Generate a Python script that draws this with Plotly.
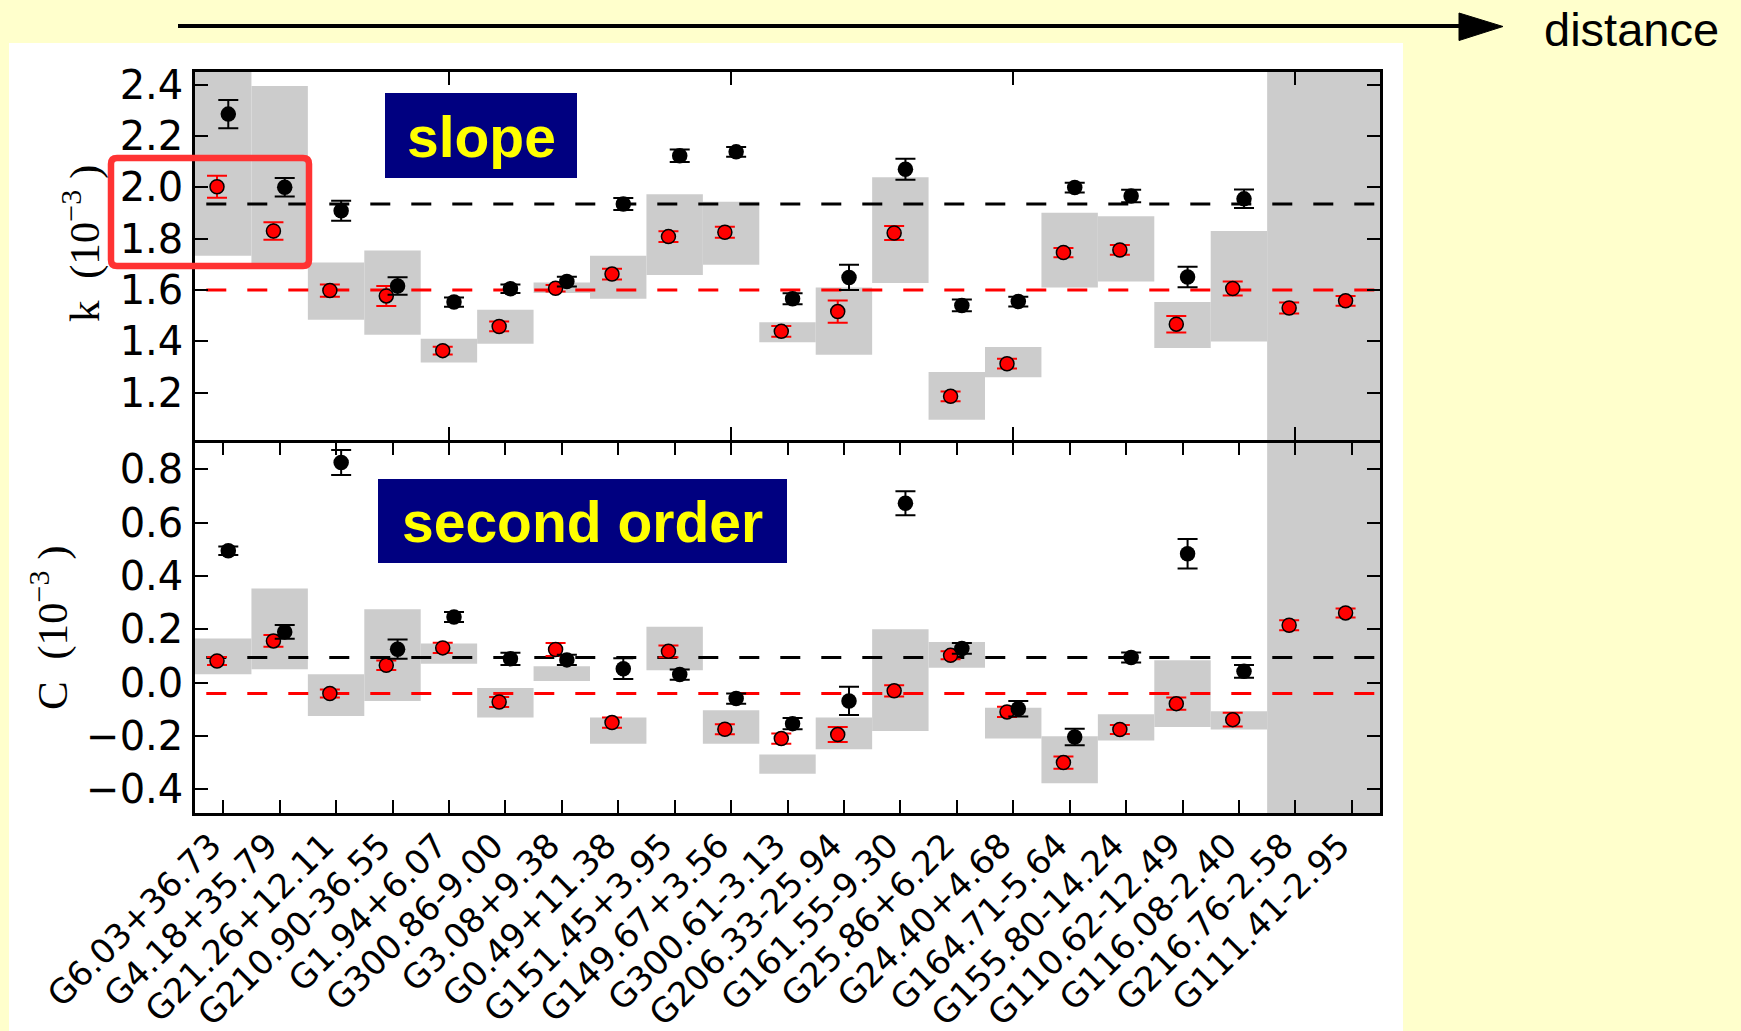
import plotly.graph_objects as go

# ---------------- data ----------------
labels = ["G6.03+36.73", "G4.18+35.79", "G21.26+12.11", "G210.90-36.55", "G1.94+6.07",
          "G300.86-9.00", "G3.08+9.38", "G0.49+11.38", "G151.45+3.95", "G149.67+3.56",
          "G300.61-3.13", "G206.33-25.94", "G161.55-9.30", "G25.86+6.22", "G24.40+4.68",
          "G164.71-5.64", "G155.80-14.24", "G110.62-12.49", "G116.08-2.40", "G216.76-2.58",
          "G111.41-2.95"]

# slope k (1e-3)
k_black = [2.285, 2.000, 1.909, 1.616, 1.553, 1.605, 1.633, 1.935, 2.123, 2.138, 1.566,
           1.649, 2.070, 1.540, 1.555, 1.999, 1.966, 1.651, 1.955, None, None]
k_black_err = [0.055, 0.036, 0.039, 0.034, 0.018, 0.017, 0.019, 0.023, 0.024, 0.019, 0.021,
               0.049, 0.041, 0.023, 0.019, 0.019, 0.024, 0.040, 0.036, None, None]
k_red = [2.002, 1.830, 1.598, 1.577, 1.364, 1.458, 1.607, 1.662, 1.808, 1.825, 1.439,
         1.516, 1.822, 1.186, 1.313, 1.746, 1.756, 1.467, 1.606, 1.530, 1.558]
k_red_err = [0.043, 0.034, 0.024, 0.039, 0.015, 0.019, 0.013, 0.021, 0.021, 0.021, 0.021,
             0.043, 0.027, 0.019, 0.019, 0.018, 0.019, 0.032, 0.027, 0.021, 0.019]
k_box_lo = [1.733, 1.690, 1.484, 1.426, 1.318, 1.391, 1.588, 1.566, 1.659, 1.698, 1.397,
            1.348, 1.627, 1.095, 1.260, 1.610, 1.633, 1.374, 1.400, None, None]
k_box_hi = [2.600, 2.394, 1.707, 1.754, 1.410, 1.523, 1.629, 1.733, 1.973, 1.944, 1.475,
            1.610, 2.039, 1.281, 1.378, 1.901, 1.887, 1.553, 1.830, None, None]
k_black_mean = 1.935
k_red_mean = 1.600

# second order C (1e-3)
c_black = [0.494, 0.190, 0.825, 0.125, 0.246, 0.089, 0.085, 0.052, 0.030, -0.060, -0.154,
           -0.069, 0.672, 0.128, -0.098, -0.204, 0.094, 0.483, 0.042, None, None]
c_black_err = [0.016, 0.026, 0.047, 0.036, 0.019, 0.023, 0.019, 0.039, 0.019, 0.019, 0.021,
               0.053, 0.045, 0.020, 0.029, 0.031, 0.019, 0.055, 0.024, None, None]
c_red = [0.081, 0.156, -0.041, 0.065, 0.130, -0.073, 0.124, -0.150, 0.117, -0.175, -0.210,
         -0.195, -0.031, 0.102, -0.110, -0.300, -0.176, -0.079, -0.139, 0.215, 0.261]
c_red_err = [0.015, 0.022, 0.015, 0.018, 0.019, 0.019, 0.024, 0.019, 0.022, 0.019, 0.019,
             0.028, 0.021, 0.015, 0.019, 0.023, 0.017, 0.023, 0.026, 0.019, 0.017]
c_box_lo = [0.031, 0.050, -0.125, -0.069, 0.071, -0.131, 0.006, -0.229, 0.046, -0.229, -0.342,
            -0.250, -0.182, 0.056, -0.210, -0.377, -0.217, -0.167, -0.176, None, None]
c_box_hi = [0.165, 0.353, 0.031, 0.275, 0.146, -0.020, 0.061, -0.131, 0.209, -0.104, -0.270,
            -0.131, 0.200, 0.152, -0.094, -0.201, -0.119, 0.084, -0.108, None, None]
c_black_mean = 0.094
c_red_mean = -0.041

full_shade = [19, 20]          # categories shaded over full height
k_ticks = [1.2, 1.4, 1.6, 1.8, 2.0, 2.2, 2.4]
c_ticks = [-0.4, -0.2, 0.0, 0.2, 0.4, 0.6, 0.8]
top_xticks = [4, 9, 14, 19]

# ---------------- geometry helpers ----------------
W, H = 1741, 1031
L, R, T, B = 195, 1380, 72, 813
PW, PH = R - L, B - T
AX_LW = 2.5


def px(x):
    return (x - L) / PW


def py(y):
    return (B - y) / PH


YELLOW = "#FFFFCC"
GRAY = "#CCCCCC"
RED_OFF, BLK_OFF = -0.11, 0.09
n = len(labels)
idx = list(range(n))

fig = go.Figure()


def add_panel(xa, ya, lo, hi, black, black_err, red, red_err, mb, mr):
    bi = [i for i in idx if lo[i] is not None]
    fig.add_trace(go.Bar(x=bi, base=[lo[i] for i in bi], y=[hi[i] - lo[i] for i in bi],
                         width=1.0, marker=dict(color=GRAY, line=dict(width=0)),
                         xaxis=xa, yaxis=ya, showlegend=False, hoverinfo="skip"))
    for m, col in ((mb, "black"), (mr, "red")):
        fig.add_trace(go.Scatter(x=[-0.3, n - 0.5], y=[m, m], mode="lines",
                                 line=dict(color=col, width=3, dash="20px,21px"),
                                 xaxis=xa, yaxis=ya, showlegend=False, hoverinfo="skip"))
    ri = [i for i in idx if red[i] is not None]
    fig.add_trace(go.Scatter(x=[i + RED_OFF for i in ri], y=[red[i] for i in ri], mode="markers",
                             marker=dict(size=14, color="red", line=dict(color="black", width=1.5)),
                             error_y=dict(type="data", array=[red_err[i] for i in ri], color="red",
                                          thickness=2, width=10),
                             xaxis=xa, yaxis=ya, showlegend=False))
    bi2 = [i for i in idx if black[i] is not None]
    fig.add_trace(go.Scatter(x=[i + BLK_OFF for i in bi2], y=[black[i] for i in bi2], mode="markers",
                             marker=dict(size=15.5, color="black"),
                             error_y=dict(type="data", array=[black_err[i] for i in bi2], color="black",
                                          thickness=2, width=10),
                             xaxis=xa, yaxis=ya, showlegend=False))


add_panel("x", "y", k_box_lo, k_box_hi, k_black, k_black_err, k_red, k_red_err, k_black_mean, k_red_mean)
add_panel("x2", "y2", c_box_lo, c_box_hi, c_black, c_black_err, c_red, c_red_err, c_black_mean, c_red_mean)

shapes = []
# white panel behind the chart
shapes.append(dict(type="rect", xref="paper", yref="paper", x0=px(9), x1=px(1403), y0=py(1040), y1=py(43),
                   fillcolor="white", line=dict(width=0), layer="below"))
# full-height shading
for xr, yr in (("x", "y domain"), ("x2", "y2 domain")):
    shapes.append(dict(type="rect", xref=xr, yref=yr, x0=min(full_shade) - 0.5, x1=max(full_shade) + 0.5,
                       y0=0, y1=1, fillcolor=GRAY, line=dict(width=0), layer="below"))
# label boxes
shapes.append(dict(type="rect", xref="paper", yref="paper", x0=px(385), x1=px(577), y0=py(178), y1=py(93),
                   fillcolor="#000080", line=dict(width=0)))
shapes.append(dict(type="rect", xref="paper", yref="paper", x0=px(378), x1=px(787), y0=py(563), y1=py(479),
                   fillcolor="#000080", line=dict(width=0)))


# red rounded rectangle
def rrect(x0, y0, x1, y1, r):
    pts = [("M", x0 + r, y0), ("L", x1 - r, y0), ("Q", x1, y0, x1, y0 + r), ("L", x1, y1 - r),
           ("Q", x1, y1, x1 - r, y1), ("L", x0 + r, y1), ("Q", x0, y1, x0, y1 - r),
           ("L", x0, y0 + r), ("Q", x0, y0, x0 + r, y0)]
    s = ""
    for p in pts:
        if p[0] == "Q":
            s += "Q%.5f,%.5f %.5f,%.5f " % (px(p[1]), py(p[2]), px(p[3]), py(p[4]))
        else:
            s += "%s%.5f,%.5f " % (p[0], px(p[1]), py(p[2]))
    return s + "Z"


shapes.append(dict(type="path", xref="paper", yref="paper", path=rrect(111, 158, 309, 266, 6),
                   line=dict(color="#FF3333", width=6.5)))
# distance arrow
shapes.append(dict(type="line", xref="paper", yref="paper", x0=px(178), x1=px(1462), y0=py(26), y1=py(26),
                   line=dict(color="black", width=4)))
shapes.append(dict(type="path", xref="paper", yref="paper",
                   path="M%.5f,%.5f L%.5f,%.5f L%.5f,%.5f Z" % (px(1459), py(13), px(1503), py(26.5),
                                                                px(1459), py(40.5)),
                   fillcolor="black", line=dict(color="black", width=1)))

annotations = [
    dict(text="slope", x=px(481), y=py(136.5), xref="paper", yref="paper", showarrow=False,
         font=dict(family="Liberation Sans, Arial", size=57, color="#FFFF00", weight="bold"),
         xanchor="center", yanchor="middle"),
    dict(text="second order", x=px(582.5), y=py(522), xref="paper", yref="paper", showarrow=False,
         font=dict(family="Liberation Sans, Arial", size=57, color="#FFFF00", weight="bold"),
         xanchor="center", yanchor="middle"),
    dict(text="distance", x=px(1542), y=py(30), xref="paper", yref="paper", showarrow=False,
         font=dict(family="Liberation Sans, Arial", size=47, color="black"),
         xanchor="left", yanchor="middle"),
    dict(text="k\u00a0\u00a0(10<sup>\u22123</sup>\u00a0)", x=px(82), y=py(244), xref="paper", yref="paper",
         showarrow=False, textangle=-90,
         font=dict(family="Liberation Serif, Times New Roman, serif", size=43, color="black"),
         xanchor="center", yanchor="middle"),
    dict(text="C\u00a0\u00a0(10<sup>\u22123</sup>\u00a0)", x=px(49), y=py(628), xref="paper", yref="paper",
         showarrow=False, textangle=-90,
         font=dict(family="Liberation Serif, Times New Roman, serif", size=43, color="black"),
         xanchor="center", yanchor="middle"),
]

axis_common = dict(showline=True, linecolor="black", linewidth=AX_LW, mirror="ticks", ticks="inside",
                   ticklen=13, tickwidth=2, tickcolor="black", showgrid=False, zeroline=False,
                   automargin=False)
tickfont = dict(family="DejaVu Sans", size=40, color="black")

# top panel's lower spine coincides with the bottom panel's upper spine
top_dom0 = 0.5 + AX_LW / PH

fig.update_layout(
    width=W, height=H, autosize=False,
    margin=dict(l=L, r=W - R, t=T, b=H - B, pad=0, autoexpand=False),
    paper_bgcolor=YELLOW, plot_bgcolor="white",
    barmode="overlay", showlegend=False,
    xaxis=dict(domain=[0, 1], anchor="y", range=[-0.5, n - 0.5], tickvals=top_xticks,
               showticklabels=False, **axis_common),
    yaxis=dict(domain=[top_dom0, 1], anchor="x", range=[1.016, 2.449], tickvals=k_ticks, tickformat=".1f",
               tickfont=tickfont, ticklabelstandoff=1, **axis_common),
    xaxis2=dict(domain=[0, 1], anchor="y2", range=[-0.5, n - 0.5], tickvals=idx,
                ticktext=[s + "\u2002" for s in labels],
                tickangle=-45, tickfont=dict(family="DejaVu Sans", size=34, color="black"),
                ticklabelstandoff=-16, **axis_common),
    yaxis2=dict(domain=[0, 0.5], anchor="x2", range=[-0.489, 0.9], tickvals=c_ticks, tickformat=".1f",
                tickfont=tickfont, ticklabelstandoff=1, **axis_common),
    shapes=shapes, annotations=annotations,
)

fig.write_html("out.html", config={"displayModeBar": False},
               post_script="document.body.style.margin='0';document.body.style.overflow='hidden';")
